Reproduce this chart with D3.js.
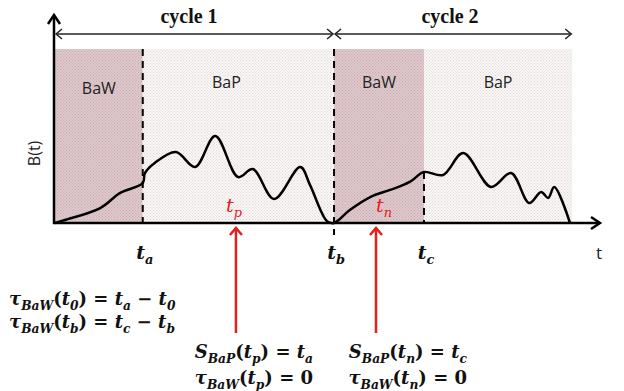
<!DOCTYPE html>
<html>
<head>
<meta charset="utf-8">
<script src="https://cdn.jsdelivr.net/npm/d3@7"></script>
<style>
  body { margin: 0; background: #fff; }
  text { white-space: pre; }
</style>
</head>
<body>
<div id="chart"></div>
<script>
const width = 624, height = 391;

// time points of the phases (arbitrary units)
const t0 = 0, ta = 1.61, tb = 5.12, tc = 6.77, tEnd = 9.49;
const tp = 3.32, tn = 5.89;

// phases: [start, end, name]
const phaseStart = [t0, ta, tb, tc];
const phaseEnd = [ta, tb, tc, tEnd];
const phaseName = ["BaW", "BaP", "BaW", "BaP"];

// cycles
const cycleStart = [t0, tb];
const cycleEnd = [tb, tEnd];
const cycleName = ["cycle 1", "cycle 2"];

// B(t) curve
const curveT = [0, 0.18, 0.83, 1.19, 1.61, 1.65, 1.83, 2.22, 2.57, 2.94, 3.36, 3.63, 4.02, 4.50, 4.68, 4.99, 5.12,
                5.41, 5.82, 6.15, 6.51, 6.77, 7.12, 7.49, 8.0, 8.37, 8.70, 8.92, 9.05, 9.16, 9.45];
const curveB = [0, 0.017, 0.086, 0.172, 0.23, 0.287, 0.345, 0.408, 0.322, 0.50, 0.264, 0.31, 0.138, 0.322, 0.218, 0.011, 0,
                0.075, 0.155, 0.19, 0.236, 0.293, 0.276, 0.402, 0.207, 0.287, 0.115, 0.178, 0.144, 0.207, 0];

// tick labels under the t axis
const tickT = [ta, tb, tc];
const tickLabel = ["t_{a}", "t_{b}", "t_{c}"];

// formulas
const leftFormulas = ["τ_{BaW}(t_{0}) = t_{a} − t_{0}", "τ_{BaW}(t_{b}) = t_{c} − t_{b}"];
const pFormulas = ["S_{BaP}(t_{p}) = t_{a}", "τ_{BaW}(t_{p}) = 0"];
const nFormulas = ["S_{BaP}(t_{n}) = t_{c}", "τ_{BaW}(t_{n}) = 0"];

const svg = d3.select("#chart").append("svg")
    .attr("width", width)
    .attr("height", height);

const x = d3.scaleLinear().domain([0, 10]).range([55, 600]);
const y = d3.scaleLinear().domain([0, 1]).range([223, 49]);

// dotted fills
const defs = svg.append("defs");
function dots(id, bg, dot) {
    const p = defs.append("pattern").attr("id", id)
        .attr("width", 3).attr("height", 3).attr("patternUnits", "userSpaceOnUse");
    p.append("rect").attr("width", 3).attr("height", 3).attr("fill", bg);
    p.append("rect").attr("width", 1).attr("height", 1).attr("fill", dot);
    p.append("rect").attr("x", 1.5).attr("y", 1.5).attr("width", 1).attr("height", 1).attr("fill", dot);
}
dots("baw", "#dec8cb", "#c9adb1");
dots("bap", "#faf6f6", "#e0d9d9");

svg.append("g").selectAll("rect")
    .data(phaseStart)
    .enter().append("rect")
    .attr("x", (d, i) => x(d))
    .attr("y", y(1))
    .attr("width", (d, i) => x(phaseEnd[i]) - x(d))
    .attr("height", y(0) - y(1))
    .attr("fill", (d, i) => phaseName[i] == "BaW" ? "url(#baw)" : "url(#bap)");

svg.append("g").selectAll("text")
    .data(phaseStart)
    .enter().append("text")
    .attr("x", (d, i) => (x(d) + x(phaseEnd[i])) / 2 - (i == 1 ? 12 : 0))
    .attr("y", (d, i) => i == 0 ? 94 : 88)
    .attr("text-anchor", "middle")
    .attr("font-family", "'Open Sans', sans-serif")
    .attr("font-size", 16)
    .attr("fill", "#222")
    .text((d, i) => phaseName[i]);

// curve
const line = d3.line()
    .x((d, i) => x(curveT[i]))
    .y((d, i) => y(curveB[i]))
    .curve(d3.curveCatmullRom.alpha(0.5));

svg.append("path")
    .datum(curveB)
    .attr("fill", "none")
    .attr("stroke", "#000")
    .attr("stroke-width", 2.5)
    .attr("d", line);

// dashed phase boundaries
const bisect = t => {
    let i = d3.bisectLeft(curveT, t);
    return curveB[Math.min(i, curveB.length - 1)];
};
const dashes = [
    {t: ta, top: 1, bottom: 0, extra: 0},
    {t: tb, top: 1, bottom: 0, extra: 12},
    {t: tc, top: bisect(tc), bottom: 0, extra: 0}
];
svg.append("g").selectAll("line")
    .data(dashes)
    .enter().append("line")
    .attr("x1", d => x(d.t)).attr("x2", d => x(d.t))
    .attr("y1", d => y(d.top)).attr("y2", d => y(d.bottom) + d.extra)
    .attr("stroke", "#000")
    .attr("stroke-width", 2)
    .attr("stroke-dasharray", "7,5");

// axes with arrows
const axisCol = "#000";
svg.append("line").attr("x1", x(0) - 1).attr("x2", x(0) - 1).attr("y1", y(0) + 1).attr("y2", 16)
    .attr("stroke", axisCol).attr("stroke-width", 2.5);
svg.append("path").attr("d", `M${x(0) - 7},${24} L${x(0) - 1},${15} L${x(0) + 5},${24}`)
    .attr("fill", "none").attr("stroke", axisCol).attr("stroke-width", 2.5);
svg.append("line").attr("x1", x(0) - 2).attr("x2", 599).attr("y1", y(0)).attr("y2", y(0))
    .attr("stroke", axisCol).attr("stroke-width", 2.5);
svg.append("path").attr("d", `M${591},${y(0) - 6} L${600},${y(0)} L${591},${y(0) + 6}`)
    .attr("fill", "none").attr("stroke", axisCol).attr("stroke-width", 2.5);

svg.append("text")
    .attr("transform", `translate(40,${y(0.4)}) rotate(-90)`)
    .attr("text-anchor", "middle")
    .attr("font-family", "'Open Sans', sans-serif")
    .attr("font-size", 16)
    .attr("fill", "#222")
    .text("B(t)");

svg.append("text")
    .attr("x", 599).attr("y", 259)
    .attr("text-anchor", "middle")
    .attr("font-family", "'Open Sans', sans-serif")
    .attr("font-size", 17)
    .attr("fill", "#222")
    .text("t");

// cycle arrows
const cy = 34;
const cyc = svg.append("g");
cycleStart.forEach((s, i) => {
    const x1 = x(s) + 1, x2 = x(cycleEnd[i]) - 1;
    cyc.append("line").attr("x1", x1).attr("x2", x2).attr("y1", cy).attr("y2", cy)
        .attr("stroke", "#222").attr("stroke-width", 1.5);
    cyc.append("path").attr("d", `M${x1 + 6},${cy - 5} L${x1},${cy} L${x1 + 6},${cy + 5}`)
        .attr("fill", "none").attr("stroke", "#222").attr("stroke-width", 1.5);
    cyc.append("path").attr("d", `M${x2 - 6},${cy - 5} L${x2},${cy} L${x2 - 6},${cy + 5}`)
        .attr("fill", "none").attr("stroke", "#222").attr("stroke-width", 1.5);
    cyc.append("text")
        .attr("x", i == 0 ? 189 : 450).attr("y", 23)
        .attr("text-anchor", "middle")
        .attr("font-family", "'Liberation Serif', serif")
        .attr("font-weight", "bold")
        .attr("font-size", 20)
        .attr("fill", "#111")
        .text(cycleName[i]);
});

// math text helper: "_{...}" is a subscript, letters are italic
function mathText(g, str, px, py, size, anchor, color, weight) {
    const t = g.append("text")
        .attr("x", px).attr("y", py)
        .attr("text-anchor", anchor)
        .attr("font-family", "'DejaVu Serif', serif")
        .attr("font-size", size)
        .attr("font-weight", weight)
        .attr("fill", color);
    const shift = size * 0.28;
    let down = false;
    const re = /_\{([^}]*)\}|([^_]+)/g;
    let m;
    while ((m = re.exec(str)) !== null) {
        if (m[1] !== undefined) {
            t.append("tspan").attr("dy", shift).attr("font-size", size * 0.68)
                .attr("font-style", "italic").text(m[1]);
            down = true;
        } else {
            const runs = m[2].match(/[A-Za-zτ]+|[^A-Za-zτ]+/g);
            runs.forEach(r => {
                const ts = t.append("tspan")
                    .attr("font-style", /[A-Za-zτ]/.test(r) ? "italic" : "normal")
                    .text(r);
                if (down) { ts.attr("dy", -shift); down = false; }
            });
        }
    }
    return t;
}

// tick labels
const ticks = svg.append("g");
tickT.forEach((d, i) => mathText(ticks, tickLabel[i], x(d) + 2, 259, 19, "middle", "#111", "bold"));

// red arrows
const red = "#e3201b";
[tp, tn].forEach((d, i) => {
    svg.append("line").attr("x1", x(d)).attr("x2", x(d)).attr("y1", 333).attr("y2", 229)
        .attr("stroke", red).attr("stroke-width", 2.5);
    svg.append("path").attr("d", `M${x(d) - 6},${235} L${x(d)},${228} L${x(d) + 6},${235}`)
        .attr("fill", "none").attr("stroke", red).attr("stroke-width", 2.5);
});
mathText(svg, "t_{p}", x(tp) - 2, 212, 19, "middle", red, "normal");
mathText(svg, "t_{n}", x(tn) + 8, 212, 19, "middle", red, "normal");

// formulas
const f = svg.append("g");
leftFormulas.forEach((s, i) => mathText(f, s, 9, 305 + i * 23, 18, "start", "#111", "bold"));
pFormulas.forEach((s, i) => mathText(f, s, 313, 358 + i * 26, 18, "end", "#111", "bold"));
nFormulas.forEach((s, i) => mathText(f, s, 467, 358 + i * 26, 18, "end", "#111", "bold"));
</script>
</body>
</html>
